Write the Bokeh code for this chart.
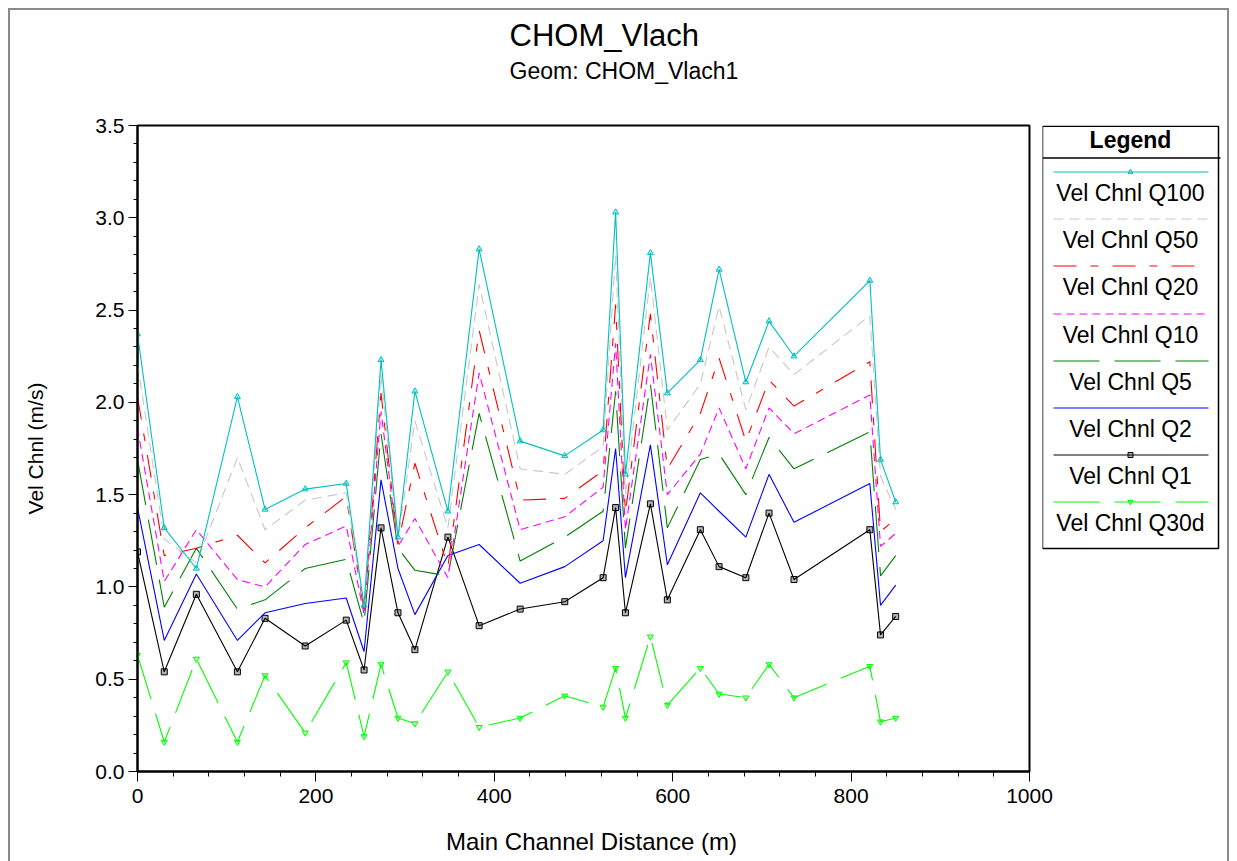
from bokeh.plotting import figure
from bokeh.models import Range1d, SingleIntervalTicker, NumeralTickFormatter, Row, Column
from bokeh.core.properties import value
from bokeh.embed import file_html
from bokeh.resources import INLINE

# ---------------- data ----------------
dist = [0, 30, 66, 112, 143, 188, 234, 254, 273, 292, 311, 348, 383, 429,
        479, 522, 536, 547, 575, 594, 631, 652, 682, 708, 736, 821, 833, 850]

q100 = [2.37, 1.32, 1.10, 2.03, 1.42, 1.53, 1.56, 0.90, 2.23, 1.27, 2.06, 1.41, 2.83, 1.79,
        1.71, 1.85, 3.03, 1.61, 2.81, 2.05, 2.23, 2.72, 2.11, 2.44, 2.25, 2.66, 1.69, 1.46]
q50 = [2.21, 1.26, 1.13, 1.70, 1.31, 1.47, 1.51, 0.89, 2.15, 1.25, 1.90, 1.32, 2.64, 1.64,
       1.61, 1.76, 2.80, 1.50, 2.68, 1.85, 2.10, 2.52, 1.96, 2.30, 2.15, 2.47, 1.60, 1.42]
q20 = [2.03, 1.17, 1.21, 1.28, 1.13, 1.32, 1.49, 0.87, 2.05, 1.23, 1.67, 1.11, 2.39, 1.47,
       1.48, 1.63, 2.53, 1.40, 2.48, 1.64, 1.94, 2.24, 1.79, 2.12, 1.98, 2.22, 1.30, 1.37]
q10 = [1.86, 1.03, 1.31, 1.04, 1.00, 1.23, 1.33, 0.85, 1.95, 1.22, 1.37, 1.05, 2.16, 1.31,
       1.38, 1.54, 2.32, 1.31, 2.26, 1.50, 1.72, 1.97, 1.64, 1.97, 1.83, 2.04, 1.22, 1.29]
q5 = [1.69, 0.89, 1.21, 0.88, 0.93, 1.10, 1.15, 0.80, 1.83, 1.21, 1.09, 1.06, 1.94, 1.14,
      1.27, 1.41, 2.06, 1.21, 2.10, 1.32, 1.69, 1.72, 1.50, 1.81, 1.64, 1.84, 1.06, 1.17]
q2 = [1.43, 0.71, 1.07, 0.71, 0.86, 0.91, 0.94, 0.65, 1.58, 1.10, 0.85, 1.17, 1.23, 1.02,
      1.11, 1.25, 1.75, 1.05, 1.77, 1.12, 1.51, 1.41, 1.27, 1.61, 1.35, 1.56, 0.90, 1.01]
q1 = [1.19, 0.54, 0.96, 0.54, 0.83, 0.68, 0.82, 0.55, 1.32, 0.86, 0.66, 1.27, 0.79, 0.88,
      0.92, 1.05, 1.43, 0.86, 1.45, 0.93, 1.31, 1.11, 1.05, 1.40, 1.04, 1.31, 0.74, 0.84]
q30d = [0.63, 0.16, 0.61, 0.16, 0.52, 0.21, 0.59, 0.19, 0.58, 0.29, 0.26, 0.54, 0.24, 0.29,
        0.41, 0.35, 0.56, 0.29, 0.73, 0.36, 0.56, 0.42, 0.40, 0.58, 0.40, 0.57, 0.27, 0.29]

names = ["Vel Chnl Q100", "Vel Chnl Q50", "Vel Chnl Q20", "Vel Chnl Q10",
         "Vel Chnl Q5", "Vel Chnl Q2", "Vel Chnl Q1", "Vel Chnl Q30d"]
values = [q100, q50, q20, q10, q5, q2, q1, q30d]

title_text = "CHOM_Vlach"
subtitle_text = "Geom: CHOM_Vlach1"
x_title = "Main Channel Distance (m)"
y_title = "Vel Chnl (m/s)"
legend_title = "Legend"

# ---------------- styles ----------------
colors = ["#00C0C0", "#C8C8C8", "#FF0000", "#FF00FF", "#008000", "#0000FF", "#000000", "#00FF00"]
dashes = ["solid", "10 6", "23 14 8 14", "8 5", "46 15", "solid", "solid", "46 15"]
markers = ["triangle", None, None, None, None, None, "square", "inverted_triangle"]
FONT = "Liberation Sans"

W, H = 1237, 861
HEAD_H = 100                 # header strip (titles)
FOOT_T = 815                 # footer strip (x-axis title) starts here
FL, FR, FT, FB = 137, 1029, 125, 771   # plot frame on the page (px)
MAIN_W = 1054
LEG_L = 1042


def strip(height, y_top, y_bottom):
    f = figure(width=W, height=height, x_range=Range1d(0, W), y_range=Range1d(y_bottom, y_top),
               title=None, output_backend="svg", toolbar_location=None,
               x_axis_type=None, y_axis_type=None, min_border=0, outline_line_color=None,
               background_fill_color=None, border_fill_color=None)
    f.grid.visible = False
    return f


# ---------------- header (titles) ----------------
head = strip(HEAD_H, 0, HEAD_H)
head.text(x=[509], y=[35], text=[title_text], text_font=value(FONT), text_font_size="31px",
          text_align="left", text_baseline="middle", text_color="black")
head.text(x=[509], y=[70.5], text=[subtitle_text], text_font=value(FONT), text_font_size="23px",
          text_align="left", text_baseline="middle", text_color="black")

# ---------------- footer (x-axis title) ----------------
foot = strip(H - FOOT_T, FOOT_T, H)
foot.text(x=[591], y=[840.5], text=[x_title], text_font=value(FONT), text_font_size="24px",
          text_align="center", text_baseline="middle", text_color="black")

# ---------------- main plot ----------------
main_h = FOOT_T - HEAD_H
p = figure(width=MAIN_W, height=main_h, x_range=Range1d(0, 1000), y_range=Range1d(0, 3.5),
           output_backend="svg", toolbar_location=None,
           min_border_left=FL, min_border_right=MAIN_W - FR,
           min_border_top=FT - HEAD_H, min_border_bottom=FOOT_T - FB)
p.xgrid.visible = False
p.ygrid.visible = False
p.outline_line_color = "black"
p.outline_line_width = 2
p.outline_line_alpha = 1
p.background_fill_color = "white"
p.border_fill_color = None

p.xaxis.ticker = SingleIntervalTicker(interval=200, num_minor_ticks=5)
p.yaxis.ticker = SingleIntervalTicker(interval=0.5, num_minor_ticks=5)
p.xaxis.formatter = NumeralTickFormatter(format="0")
p.yaxis.formatter = NumeralTickFormatter(format="0.0")
for ax in (p.xaxis[0], p.yaxis[0]):
    ax.axis_line_color = "black"
    ax.axis_line_width = 2
    ax.major_tick_line_color = "black"
    ax.minor_tick_line_color = "black"
    ax.major_tick_in = 0
    ax.minor_tick_in = 0
    ax.major_label_text_font = FONT
    ax.major_label_text_font_size = "21px"
    ax.major_label_text_color = "black"
    ax.axis_label_text_font = FONT
    ax.axis_label_text_font_style = "normal"
    ax.axis_label_text_color = "black"
p.xaxis.major_tick_out = 10
p.xaxis.minor_tick_out = 5
p.xaxis.major_label_standoff = 7
p.yaxis.major_tick_out = 9
p.yaxis.minor_tick_out = 4
p.yaxis.major_label_standoff = 4
p.yaxis.axis_label = y_title
p.yaxis.axis_label_text_font_size = "21px"
p.yaxis.axis_label_standoff = 45

for i in reversed(range(len(names))):
    p.line(dist, values[i], line_color=colors[i], line_width=1.1, line_dash=dashes[i])
    if markers[i]:
        p.scatter(dist, values[i], marker=markers[i], size=6, line_color=colors[i],
                  fill_color=colors[i], fill_alpha=0.3, line_width=1)

# ---------------- legend panel (page-pixel coordinates; its frame aligns with the plot frame) ----
leg = figure(width=W - LEG_L, height=main_h, x_range=Range1d(LEG_L, W),
             y_range=Range1d(FB, FT), output_backend="svg", toolbar_location=None,
             x_axis_type=None, y_axis_type=None, min_border=0, outline_line_color=None,
             background_fill_color=None, border_fill_color=None,
             margin=(0, 0, 0, -(MAIN_W - LEG_L)))
leg.grid.visible = False
leg.quad(left=[1042], right=[1218], top=[125.8], bottom=[548], fill_color="white",
         line_color="black", line_width=1.5)
leg.segment(x0=[1042], y0=[157.5], x1=[1220], y1=[157.5], line_color="black", line_width=1.5)
leg.text(x=[1130], y=[139.5], text=[legend_title], text_font=value(FONT), text_font_size="23px",
         text_font_style="bold", text_align="center", text_baseline="middle", text_color="black")
for i, name in enumerate(names):
    ly = round(171 + 47.2 * i) + 0.5
    ty = 192.5 + 47.2 * i
    leg.line([1053, 1208], [ly, ly], line_color=colors[i], line_width=1, line_dash=dashes[i])
    if markers[i]:
        leg.scatter([1130], [ly], marker=markers[i], size=5, line_color=colors[i],
                    fill_color=colors[i], fill_alpha=0.3, line_width=1)
    leg.text(x=[1130], y=[ty], text=[name], text_font=value(FONT), text_font_size="23px",
             text_align="center", text_baseline="middle", text_color="black")

body = Row(children=[p, leg])
root = Column(children=[head, body, foot],
              styles={"background-color": "white",
                      "box-shadow": "inset 8px 8px 0 0 white, inset -8px 0 0 0 white, "
                                    "inset 10px 10px 0 0 #8a8a8a, inset -10px 0 0 0 #8a8a8a"})

open("out.html", "w").write(file_html(root, INLINE))
